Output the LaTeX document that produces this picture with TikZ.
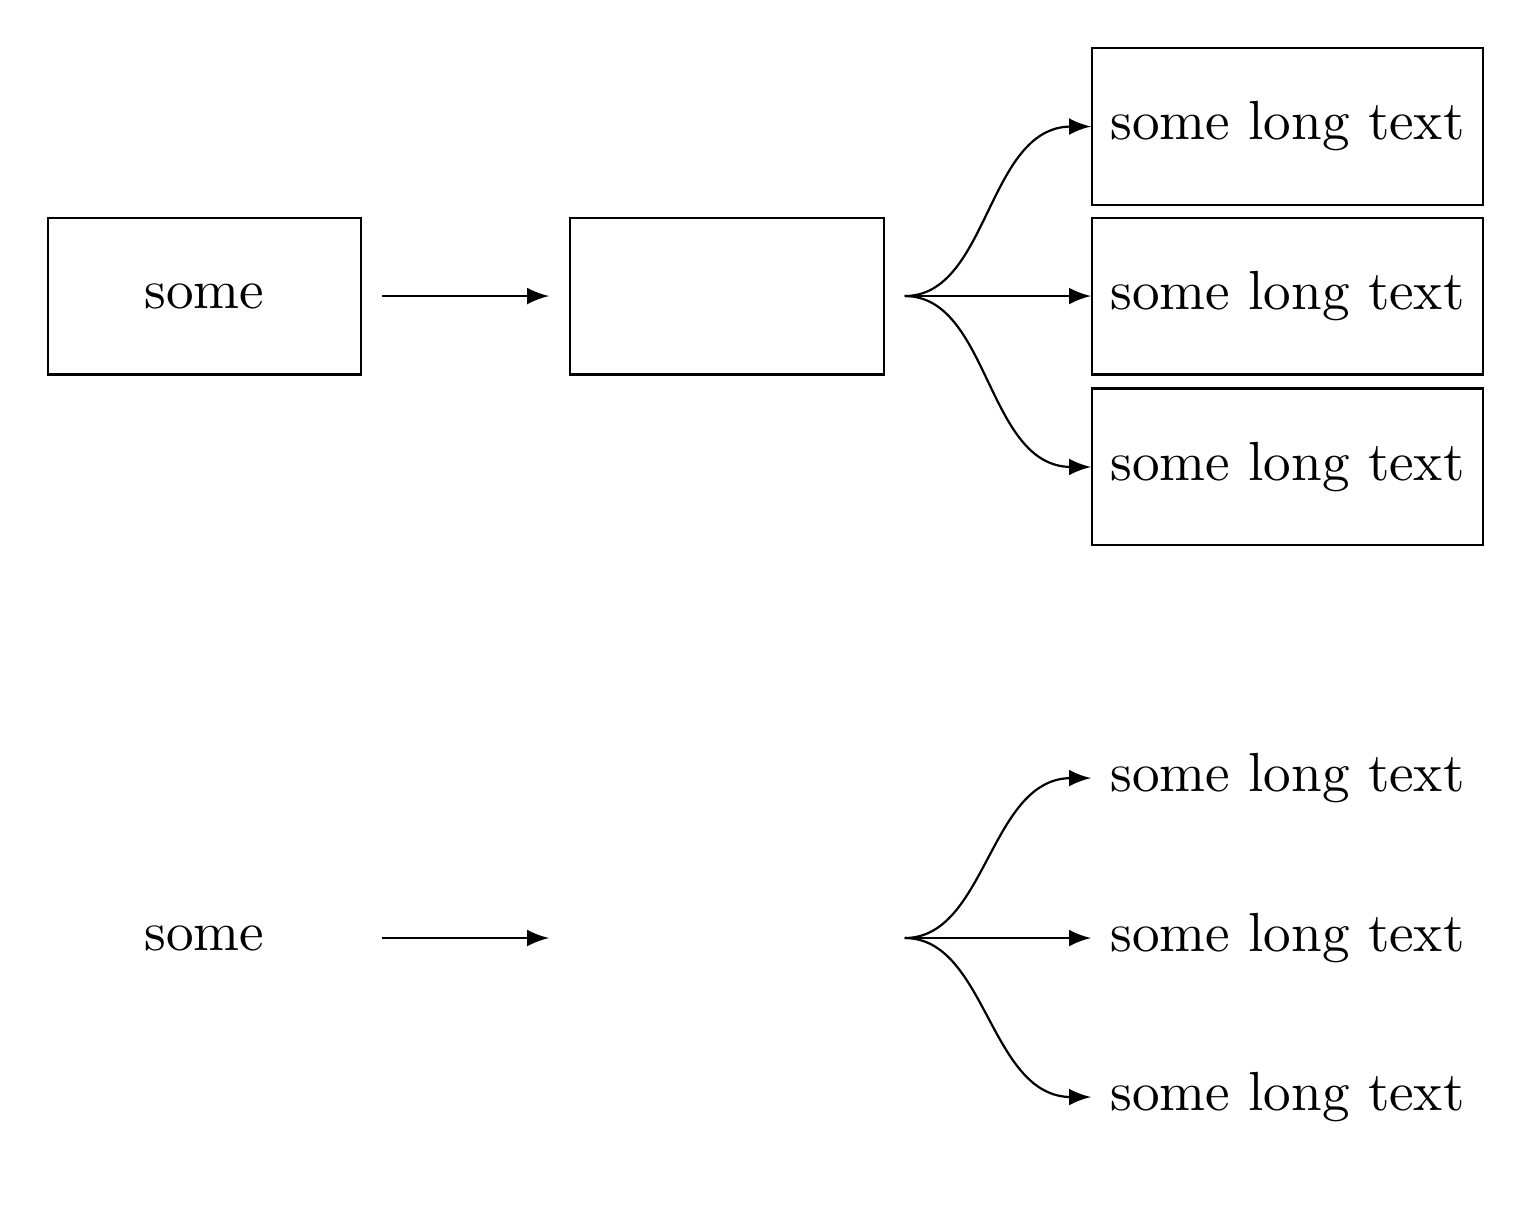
\documentclass[tikz,border=0pt]{standalone}
\usepackage{tikz}
\usetikzlibrary{arrows}

\begin{document}
\begin{tikzpicture}
\tikzstyle{box} = [rectangle, draw, minimum width=2cm, minimum height=1cm]
\tikzstyle{plain} = [rectangle, minimum width=2cm, minimum height=1cm]
\tikzstyle{link} = [->, >=latex, shorten <=3.6pt]
\useasboundingbox (0,0) rectangle (9.77,-7.806);

% with frames
\node[box] (start) at (1.304, -1.888) {some};
\node[box] (mid) at (4.636, -1.888) {};
\node[box] (up) at (8.211, -0.807) {some long text};
\node[box] (same) at (8.211, -1.888) {some long text};
\node[box] (down) at (8.211, -2.978) {some long text};

\draw [link, shorten >=3.6pt] (start) -- (mid);
\draw [link] (mid.east) to[out=0, in=180] (up.west);
\draw [link] (mid.east) -- (same.west);
\draw [link] (mid.east) to[out=0, in=180] (down.west);

% without frames
\node[plain] (start2) at (1.304, -5.982) {some};
\node[plain] (mid2) at (4.636, -5.982) {};
\node[plain] (up2) at (8.211, -4.962) {some long text};
\node[plain] (same2) at (8.211, -5.982) {some long text};
\node[plain] (down2) at (8.211, -6.996) {some long text};

\draw [link, shorten >=3.6pt] (start2) -- (mid2);
\draw [link] (mid2.east) to[out=0, in=180] (up2.west);
\draw [link] (mid2.east) -- (same2.west);
\draw [link] (mid2.east) to[out=0, in=180] (down2.west);
\end{tikzpicture}
\end{document}
